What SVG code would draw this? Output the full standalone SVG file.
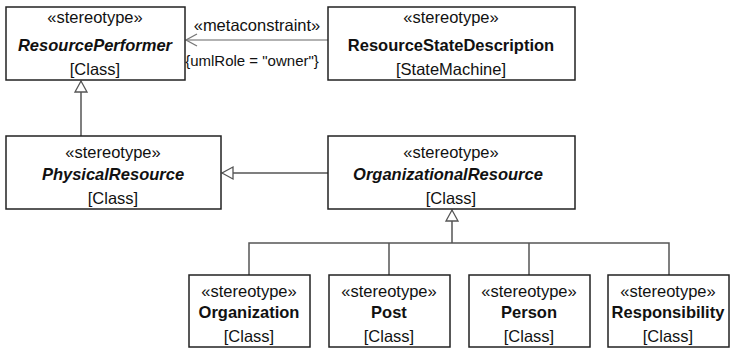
<svg xmlns="http://www.w3.org/2000/svg" width="732" height="350" viewBox="0 0 732 350">
<style>
.box{fill:#fff;stroke:#222;stroke-width:1.5}
text{font-family:"Liberation Sans",Arial,sans-serif;font-size:16.5px;fill:#111;text-anchor:middle}
.b{font-weight:bold}
.bi{font-weight:bold;font-style:italic}
.gen{fill:none;stroke:#555;stroke-width:1.5}
.meta{fill:none;stroke:#999;stroke-width:1.3}
</style>
<defs>
<marker id="tri" markerUnits="userSpaceOnUse" markerWidth="16" markerHeight="16" viewBox="0 0 16 16" refX="14" refY="8" orient="auto">
<path d="M14,8 L3,2 L3,14 Z" fill="#fff" stroke="#555" stroke-width="1.3"/>
</marker>
<marker id="open" markerUnits="userSpaceOnUse" markerWidth="16" markerHeight="16" viewBox="0 0 16 16" refX="14" refY="8" orient="auto">
<path d="M3,2 L14,8 L3,14" fill="none" stroke="#777" stroke-width="1.3"/>
</marker>
</defs>
<g id="connectors">
<path class="meta" d="M328,40 H186" marker-end="url(#open)"/>
<text x="257" y="31">«metaconstraint»</text>
<text x="252" y="66" style="font-size:15px">{umlRole = "owner"}</text>
<path class="gen" d="M81,136 V81" marker-end="url(#tri)"/>
<path class="gen" d="M328,173 H222" marker-end="url(#tri)"/>
<path class="gen" d="M452,243 V210" marker-end="url(#tri)"/>
<path class="gen" d="M249,275 V243 H669 V275 M389,243 V275 M529,243 V275"/>
</g>
<g id="ResourcePerformer">
<rect class="box" x="6" y="7" width="179" height="73"/>
<text x="95" y="23">«stereotype»</text>
<text class="bi" x="95" y="51">ResourcePerformer</text>
<text x="95" y="75">[Class]</text>
</g>
<g id="ResourceStateDescription">
<rect class="box" x="328" y="7" width="247" height="73"/>
<text x="451" y="23">«stereotype»</text>
<text class="b" x="451" y="51">ResourceStateDescription</text>
<text x="451" y="75">[StateMachine]</text>
</g>
<g id="PhysicalResource">
<rect class="box" x="6" y="136" width="215" height="73"/>
<text x="113" y="158">«stereotype»</text>
<text class="bi" x="113" y="180">PhysicalResource</text>
<text x="113" y="204">[Class]</text>
</g>
<g id="OrganizationalResource">
<rect class="box" x="328" y="136" width="247" height="73"/>
<text x="451" y="158">«stereotype»</text>
<text class="bi" x="448" y="180">OrganizationalResource</text>
<text x="451" y="204">[Class]</text>
</g>
<g id="Organization">
<rect class="box" x="189" y="275" width="121" height="72"/>
<text x="249" y="297">«stereotype»</text>
<text class="b" x="249" y="318">Organization</text>
<text x="249" y="342">[Class]</text>
</g>
<g id="Post">
<rect class="box" x="329" y="275" width="121" height="72"/>
<text x="389" y="297">«stereotype»</text>
<text class="b" x="389" y="318">Post</text>
<text x="389" y="342">[Class]</text>
</g>
<g id="Person">
<rect class="box" x="469" y="275" width="121" height="72"/>
<text x="529" y="297">«stereotype»</text>
<text class="b" x="529" y="318">Person</text>
<text x="529" y="342">[Class]</text>
</g>
<g id="Responsibility">
<rect class="box" x="608" y="275" width="121" height="72"/>
<text x="668" y="297">«stereotype»</text>
<text class="b" x="668" y="318">Responsibility</text>
<text x="668" y="342">[Class]</text>
</g>
</svg>
